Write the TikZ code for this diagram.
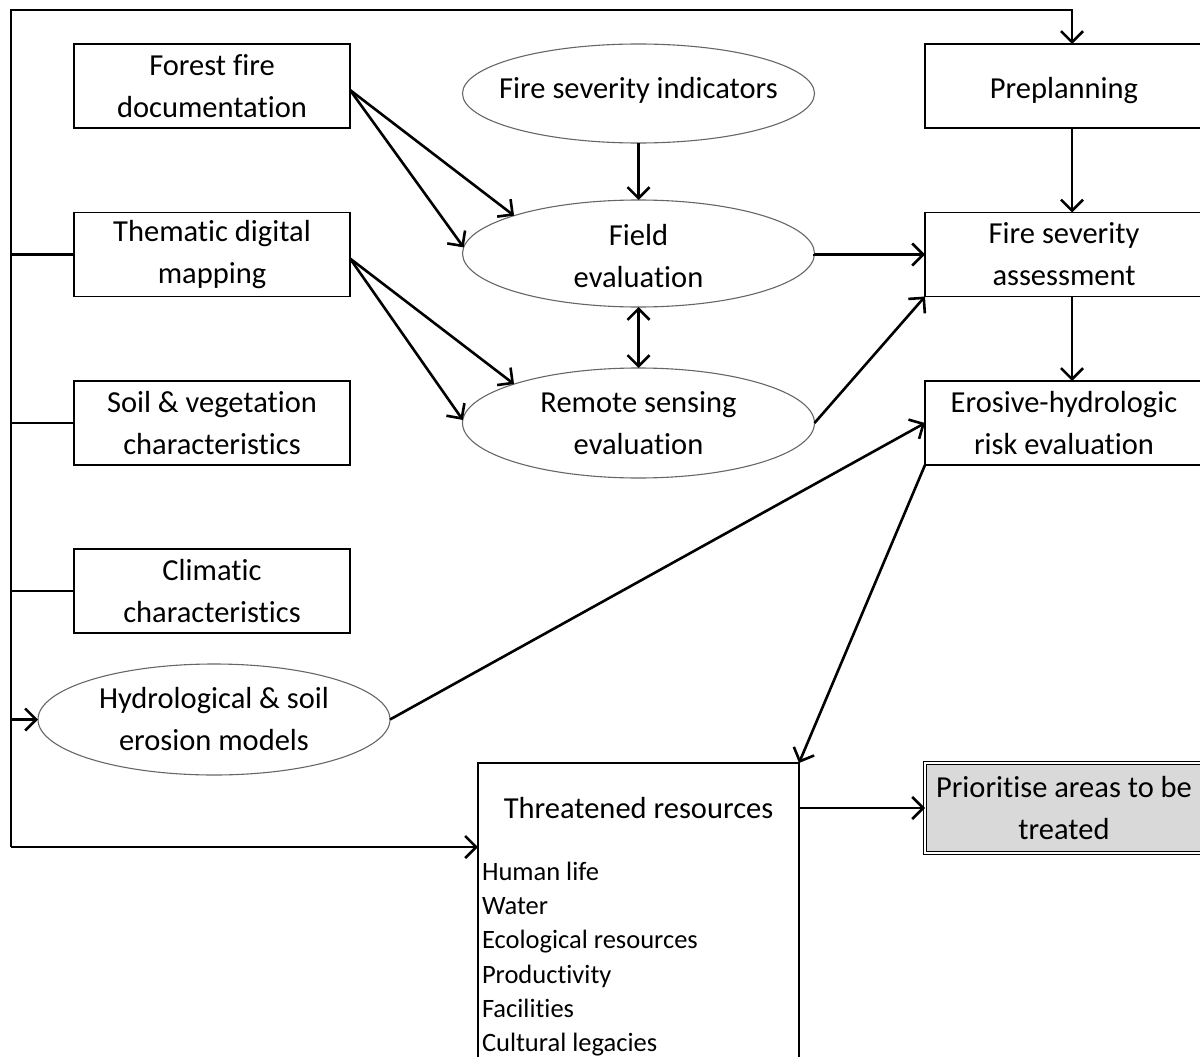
\documentclass[tikz,border=0pt]{standalone}
\usepackage{fontspec}
\setmainfont{Carlito}[Ligatures={NoCommon,NoRequired,NoContextual}]
\usetikzlibrary{arrows.meta,shapes.geometric,calc}
\begin{document}
\begin{tikzpicture}[x=1pt,y=-1pt,
  every node/.style={inner sep=0pt,outer sep=0pt},
  txt/.style={font=\fontsize{30.5}{42}\selectfont,align=center,text=black},
  boxnode/.style={txt,draw=black,line width=1.6pt,rectangle,minimum width=276pt,minimum height=84pt},
  rbox/.style={boxnode,minimum width=278pt},
  ellnode/.style={txt,draw=black!60,line width=1.1pt,ellipse,minimum width=352pt,inner xsep=-40pt},
  listitem/.style={font=\fontsize{26.5}{34}\selectfont,anchor=base west,text=black},
  conn/.style={line width=2.6pt,draw=black},
  arr/.style={conn,-{Straight Barb[length=11pt,width=22pt]}},
  darr/.style={conn,{Straight Barb[length=11pt,width=22pt]}-{Straight Barb[length=11pt,width=22pt]}}
]
\useasboundingbox (0,0) rectangle (1200,1057);
% left column
\node[boxnode] (ffd) at (212,86) {Forest fire\\documentation};
\node[boxnode] (tdm) at (212,254.5) {Thematic digital\\mapping};
\node[boxnode] (svc) at (212,423) {Soil \& vegetation\\characteristics};
\node[boxnode] (cc) at (212,591) {Climatic\\characteristics};
\node[ellnode,minimum height=111pt] (hyd) at (214,719.5) {Hydrological \& soil\\erosion models};
% middle column
\node[ellnode,minimum height=99pt] (fsi) at (638.5,93.5) {};
\node[txt] (fsit) at (638.5,90.5) {Fire severity indicators};
\node[ellnode,minimum height=107pt] (fe) at (638.5,253.5) {};
\node[txt] (fet) at (638.5,256.5) {Field\\evaluation};
\node[ellnode,minimum height=110pt] (rs) at (638.5,423) {Remote sensing\\evaluation};
% right column
\node[rbox] (pre) at (1064,86) {};
\node[txt] (pret) at (1064,90.5) {Preplanning};
\node[rbox] (fsa) at (1064,254.5) {Fire severity\\assessment};
\node[rbox] (era) at (1064,423) {Erosive-hydrologic\\risk evaluation};
\node[txt,draw=black,line width=0.9pt,double=white,double distance=1.6pt,fill=black!15,
      minimum width=278pt,minimum height=90pt] (pa) at (1064,808) {Prioritise areas to be\\treated};
% threatened resources
\node[draw=black,line width=1.6pt,minimum width=321pt,minimum height=300pt] (tr) at (638.5,913) {};
\node[txt] (trt) at (638.5,808) {Threatened resources};
\node[listitem] (l1) at (482,880) {Human life};
\node[listitem] (l2) at (482,914) {Water};
\node[listitem] (l3) at (482,948.5) {Ecological resources};
\node[listitem] (l4) at (482,983) {Productivity};
\node[listitem] (l5) at (482,1017) {Facilities};
\node[listitem] (l6) at (482,1051) {Cultural legacies};
% bus
\coordinate (bt) at (11,10);
\coordinate (bb) at (11,847);
\draw[arr] (bb) -- (bt) -| ([xshift=8pt]pre.north);
\draw[conn] (tdm.west) -- (tdm.west -| bt);
\draw[conn] (svc.west) -- (svc.west -| bt);
\draw[conn] (cc.west) -- (cc.west -| bt);
\draw[arr] (hyd.west -| bt) -- (hyd.west);
\draw[arr] (bb) -- (bb -| tr.west);
% connectors
\draw[arr] ([yshift=-4pt]ffd.east) -- (fe.north west);
\draw[arr] ([yshift=-4pt]ffd.east) -- (fe.178);
\draw[arr] ([yshift=-4pt]tdm.east) -- (rs.north west);
\draw[arr] ([yshift=-4pt]tdm.east) -- (rs.179);
\draw[arr] (fsi.south) -- (fe.north);
\draw[darr] (fe.south) -- (rs.north);
\draw[arr] (fe.east) -- (fsa.west -| fe.east) -- (fsa.west);
\draw[arr] (rs.east) -- (fsa.south west);
\draw[arr] (hyd.east) -- (era.west);
\draw[arr] ([xshift=8pt]pre.south) -- ([xshift=8pt]fsa.north);
\draw[arr] ([xshift=8pt]fsa.south) -- ([xshift=8pt]era.north);
\draw[arr] (era.south west) -- (tr.north east);
\draw[arr] (pa.west -| tr.east) -- (pa.west);
\end{tikzpicture}
\end{document}
